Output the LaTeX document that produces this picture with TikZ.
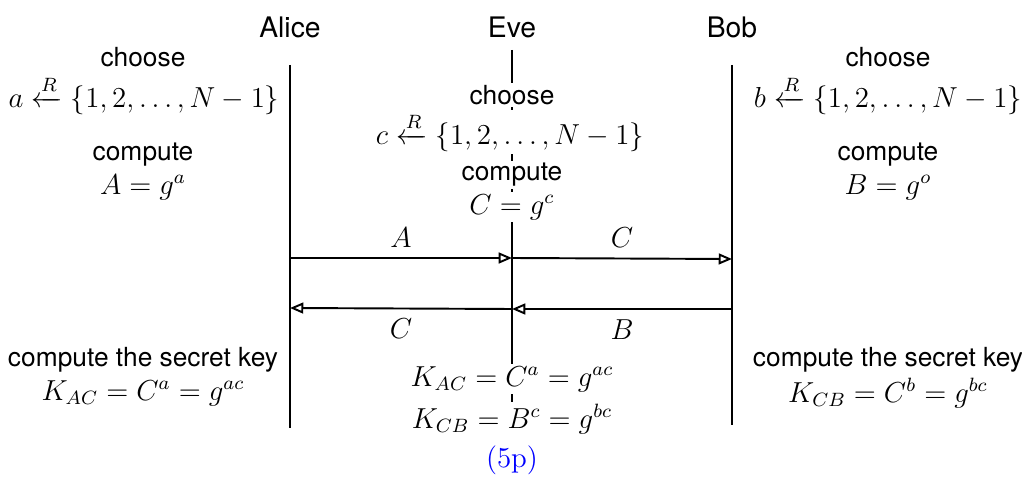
\documentclass[tikz,border=0pt,12pt]{standalone}
\usepackage{amsmath}
\usepackage{fontspec}
\setsansfont{TeX Gyre Heros}[Scale=0.91]
\usepackage{xcolor}
\usetikzlibrary{arrows.meta}

\begin{document}
\begin{tikzpicture}[x={(0.01458cm,0cm)},y={(0cm,-0.01458cm)},
    word/.style={font=\sffamily},
    who/.style={font=\sffamily\fontsize{12.9}{15}\selectfont},
    mask/.style={fill=white,inner sep=1pt},
    life/.style={thick},
    msg/.style={thick,-{Triangle[open,length=5.5pt,width=4.5pt]}}]
  \useasboundingbox (0,0) rectangle (1022,482);
  % parties
  \node[who] (alice) at (290,27) {Alice};
  \node[who] (eve)   at (512,27) {Eve};
  \node[who] (bob)   at (732,27) {Bob};
  \coordinate (atop) at (290,65);  \coordinate (abot) at (290,428);
  \coordinate (etop) at (512,50);  \coordinate (ebot) at (512,420);
  \coordinate (btop) at (732,65);  \coordinate (bbot) at (732,425);
  \draw[life] (atop) -- (abot);
  \draw[life] (etop) -- (ebot);
  \draw[life] (btop) -- (bbot);
  % Alice
  \node[word] (achoose) at (143,57)  {choose};
  \node       (apick)   at (144,95)  {$a \xleftarrow{R} \{1,2,\ldots,N-1\}$};
  \node[word] (acomp)   at (143,155) {compute};
  \node       (aval)    at (143,187) {$A = g^a$};
  \node[word] (akey)    at (143,360) {compute the secret key};
  \node       (akval)   at (143,393) {$K_{AC} = C^a = g^{ac}$};
  % Bob
  \node[word] (bchoose) at (888,57)  {choose};
  \node       (bpick)   at (888,95)  {$b \xleftarrow{R} \{1,2,\ldots,N-1\}$};
  \node[word] (bcomp)   at (888,155) {compute};
  \node       (bval)    at (888,187) {$B = g^o$};
  \node[word] (bkey)    at (888,360) {compute the secret key};
  \node       (bkval)   at (888,393) {$K_{CB} = C^b = g^{bc}$};
  % Eve
  \node[word,mask] (echoose) at (512,95)  {choose};
  \node[mask]      (epick)   at (510,132) {$c \xleftarrow{R} \{1,2,\ldots,N-1\}$};
  \node[word,mask] (ecomp)   at (512,175) {compute};
  \node[mask]      (eval)    at (512,207) {$C = g^c$};
  \node[mask]      (ekac)    at (512,379) {$K_{AC} = C^a = g^{ac}$};
  \node[mask]      (ekcb)    at (512,419) {$K_{CB} = B^c = g^{bc}$};
  \node (pts) at (512,460) {\textcolor{blue}{(5p)}};
  % messages
  \coordinate (a1) at (290,258); \coordinate (e1) at (512,258); \coordinate (b1) at (732,259);
  \coordinate (a2) at (290,308); \coordinate (e2) at (512,309); \coordinate (b2) at (732,309);
  \draw[msg] (a1) -- node[above] {$A$} (e1);
  \draw[msg] (e1) -- node[above] {$C$} (b1);
  \draw[msg] (b2) -- node[below] {$B$} (e2);
  \draw[msg] (e2) -- node[below] {$C$} (a2);
\end{tikzpicture}
\end{document}
